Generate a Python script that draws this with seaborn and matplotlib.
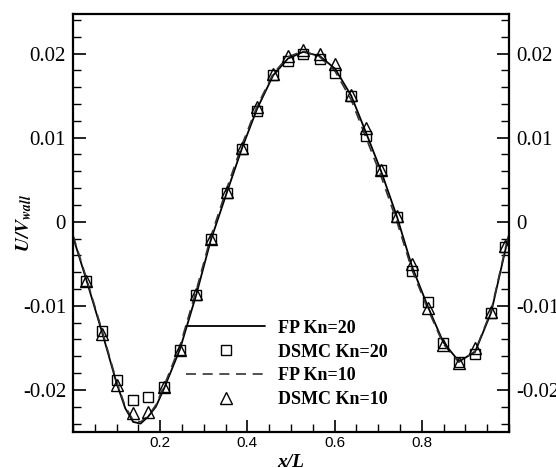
import numpy as np
import pandas as pd
import matplotlib
matplotlib.use("Agg")
import matplotlib.pyplot as plt
from matplotlib.ticker import MultipleLocator, FixedLocator, FuncFormatter
import seaborn as sns

# ---------------- data ----------------
fp_x = [0.0, 0.03, 0.067, 0.1, 0.12, 0.138, 0.155, 0.172, 0.19, 0.209, 0.245,
        0.282, 0.316, 0.353, 0.388, 0.422, 0.459, 0.493, 0.528, 0.566, 0.601,
        0.638, 0.672, 0.706, 0.743, 0.778, 0.814, 0.849, 0.885, 0.922, 0.959,
        0.991, 1.0]
fp_kn20 = [-0.0018, -0.0068, -0.0132, -0.0192, -0.0222, -0.0238, -0.0240, -0.0232,
           -0.0220, -0.0198, -0.0152, -0.0088, -0.0022, 0.0035, 0.0088, 0.0134,
           0.0174, 0.0194, 0.0202, 0.0197, 0.0182, 0.0150, 0.0106, 0.0061,
           0.0006, -0.0054, -0.0101, -0.0143, -0.0166, -0.0155, -0.0108,
           -0.0035, -0.0015]
fp_kn10 = [-0.0016, -0.0066, -0.0130, -0.0190, -0.0220, -0.0236, -0.0238, -0.0231,
           -0.0218, -0.0195, -0.0148, -0.0083, -0.0018, 0.0040, 0.0092, 0.0137,
           0.0176, 0.0196, 0.0203, 0.0196, 0.0179, 0.0145, 0.0100, 0.0055,
           0.0000, -0.0058, -0.0104, -0.0145, -0.0167, -0.0154, -0.0106,
           -0.0033, -0.0014]

dsmc_x = [0.030, 0.067, 0.101, 0.138, 0.172, 0.209, 0.245, 0.282, 0.316, 0.353,
          0.388, 0.422, 0.459, 0.493, 0.528, 0.566, 0.601, 0.638, 0.672, 0.706,
          0.743, 0.778, 0.814, 0.849, 0.885, 0.922, 0.959, 0.991]
dsmc_kn20 = [-0.0071, -0.0130, -0.0188, -0.0212, -0.0208, -0.0197, -0.0153, -0.0087,
             -0.0020, 0.0034, 0.0087, 0.0132, 0.0175, 0.0191, 0.0200, 0.0194,
             0.0177, 0.0150, 0.0102, 0.0061, 0.0006, -0.0058, -0.0096, -0.0144,
             -0.0167, -0.0157, -0.0108, -0.0030]
dsmc_kn10 = [-0.0070, -0.0134, -0.0194, -0.0228, -0.0226, -0.0197, -0.0153, -0.0086,
             -0.0020, 0.0035, 0.0088, 0.0137, 0.0176, 0.0197, 0.0204, 0.0199,
             0.0187, 0.0151, 0.0111, 0.0062, 0.0007, -0.0050, -0.0103, -0.0146,
             -0.0168, -0.0150, -0.0107, -0.0029]

labels = ["FP Kn=20", "DSMC Kn=20", "FP Kn=10", "DSMC Kn=10"]
xticks = [0.2, 0.4, 0.6, 0.8]
yticks = [-0.02, -0.01, 0.0, 0.01, 0.02]

# ---------------- plot ----------------
sns.set_theme(style="ticks")
plt.rcParams["mathtext.fontset"] = "stix"
plt.rcParams["axes.linewidth"] = 1.6

fig = plt.figure(figsize=(5.56, 4.68), dpi=100)
ax = fig.add_axes([73 / 556, 1 - 432 / 468, 436 / 556, 418 / 468])

df_fp = pd.DataFrame({"x": fp_x, "kn20": fp_kn20, "kn10": fp_kn10})
df_ds = pd.DataFrame({"x": dsmc_x, "kn20": dsmc_kn20, "kn10": dsmc_kn10})

sns.lineplot(data=df_fp, x="x", y="kn20", ax=ax, color="black", lw=1.3,
             estimator=None, sort=False, label=labels[0], legend=False)
sns.lineplot(data=df_ds, x="x", y="kn20", ax=ax, color="black", linestyle="",
             marker="s", markersize=7.8, markerfacecolor="none",
             markeredgecolor="black", markeredgewidth=1.0,
             estimator=None, sort=False, label=labels[1], legend=False)
sns.lineplot(data=df_fp, x="x", y="kn10", ax=ax, color="#333333", lw=1.2,
             dashes=False, linestyle=(0, (6, 4)),
             estimator=None, sort=False, label=labels[2], legend=False)
sns.lineplot(data=df_ds, x="x", y="kn10", ax=ax, color="black", linestyle="",
             marker="^", markersize=9, markerfacecolor="none",
             markeredgecolor="black", markeredgewidth=1.0,
             estimator=None, sort=False, label=labels[3], legend=False)

ax.set_xlim(0, 1)
ax.set_ylim(-0.025, 0.0247)

ax.xaxis.set_major_locator(FixedLocator(xticks))
ax.xaxis.set_minor_locator(MultipleLocator(0.05))
ax.xaxis.set_major_formatter(FuncFormatter(lambda v, p: f"{v:g}"))
ax.yaxis.set_major_locator(FixedLocator(yticks))
ax.yaxis.set_minor_locator(MultipleLocator(0.002))
ax.yaxis.set_major_formatter(FuncFormatter(lambda v, p: "0" if abs(v) < 1e-12 else f"{v:g}"))

ax.tick_params(axis="both", which="both", direction="in", color="black")
ax.tick_params(axis="x", which="both", top=False, bottom=True)
ax.tick_params(axis="y", which="both", left=True, right=True, labelleft=True, labelright=True)
ax.tick_params(axis="both", which="major", length=9, width=1.2)
ax.tick_params(axis="both", which="minor", length=5.5, width=1.0)
ax.tick_params(axis="x", which="major", pad=3, labelsize=11)
ax.tick_params(axis="y", which="major", pad=5, labelsize=15)

for lab in ax.get_xticklabels():
    lab.set_fontfamily("Liberation Sans")
    lab.set_color("black")
for t in ax.yaxis.get_major_ticks():
    for lab in (t.label1, t.label2):
        lab.set_fontfamily("Liberation Serif")
        lab.set_fontsize(15)
        lab.set_color("black")

for sp in ax.spines.values():
    sp.set_color("black")
    sp.set_linewidth(1.6)

ax.set_xlabel("x/L", fontfamily="Liberation Serif", fontstyle="italic",
              fontweight="bold", fontsize=14, labelpad=3, color="black")
ax.set_ylabel(r"$\mathbfit{U/V}_{\mathbfit{wall}}$", fontsize=14, color="black")
ax.yaxis.set_label_coords((34 - 73) / 436, 0.5)

handles, labs = ax.get_legend_handles_labels()
order = [labs.index(l) for l in labels]
leg = ax.legend([handles[i] for i in order], [labs[i] for i in order],
                loc="center left", bbox_to_anchor=(186 / 556, 1 - 364 / 468),
                bbox_transform=fig.transFigure, frameon=False, borderpad=0,
                borderaxespad=0, handlelength=4.4, handletextpad=0.7,
                labelspacing=0.38, numpoints=1,
                prop={"family": "Liberation Serif", "weight": "bold", "size": 13})
for t in leg.get_texts():
    t.set_color("black")

fig.savefig("out.png", dpi=100)
